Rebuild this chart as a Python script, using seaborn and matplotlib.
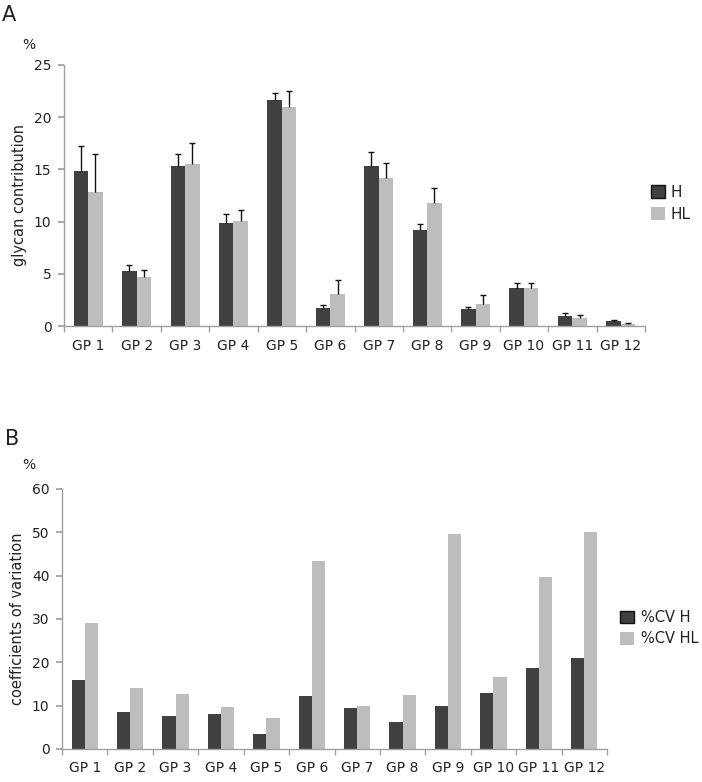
import numpy as np
import pandas as pd
import matplotlib
matplotlib.use("Agg")
import matplotlib.pyplot as plt
import seaborn as sns
from matplotlib.ticker import MultipleLocator, FixedLocator

groups = ["GP 1", "GP 2", "GP 3", "GP 4", "GP 5", "GP 6",
          "GP 7", "GP 8", "GP 9", "GP 10", "GP 11", "GP 12"]

# panel A: mean glycan contribution (%) and upper error
h_mean = [14.8, 5.3, 15.3, 9.9, 21.6, 1.7, 15.3, 9.2, 1.6, 3.6, 1.0, 0.5]
hl_mean = [12.8, 4.7, 15.5, 10.1, 21.0, 3.1, 14.2, 11.8, 2.1, 3.6, 0.8, 0.2]
h_err = [2.4, 0.5, 1.2, 0.8, 0.7, 0.3, 1.4, 0.6, 0.2, 0.5, 0.2, 0.06]
hl_err = [3.7, 0.7, 2.0, 1.0, 1.5, 1.3, 1.4, 1.4, 0.9, 0.55, 0.3, 0.1]

# panel B: coefficients of variation (%)
cv_h = [15.9, 8.5, 7.7, 8.0, 3.5, 12.3, 9.4, 6.3, 9.9, 13.0, 18.6, 21.1]
cv_hl = [29.1, 14.0, 12.8, 9.7, 7.1, 43.4, 9.9, 12.5, 49.6, 16.6, 39.8, 50.1]

dark = "#404040"
light = "#bdbdbd"
axis_col = "#a0a0a0"
txt_col = "#222222"

sns.set_theme(style="white")
plt.rcParams["font.family"] = ["DejaVu Sans"]

df_a = pd.DataFrame({
    "group": groups * 2,
    "value": h_mean + hl_mean,
    "err": h_err + hl_err,
    "series": ["H"] * 12 + ["HL"] * 12,
})
df_b = pd.DataFrame({
    "group": groups * 2,
    "value": cv_h + cv_hl,
    "series": ["%CV H"] * 12 + ["%CV HL"] * 12,
})

fig = plt.figure(figsize=(7.02, 7.82), dpi=100)
ax_a = fig.add_axes([0.0912, 0.5831, 0.8276, 0.3338])
ax_b = fig.add_axes([0.0883, 0.0422, 0.7764, 0.3325])


def style_axis(ax, ymax, step, ylabel):
    for s in ["top", "right"]:
        ax.spines[s].set_visible(False)
    for s in ["left", "bottom"]:
        ax.spines[s].set_color(axis_col)
        ax.spines[s].set_linewidth(1.0)
    ax.set_ylim(0, ymax)
    ax.set_xlim(-0.5, len(groups) - 0.5)
    ax.yaxis.set_major_locator(MultipleLocator(step))
    ax.xaxis.set_minor_locator(FixedLocator(np.arange(-0.5, len(groups), 1.0)))
    ax.tick_params(axis="x", which="major", length=0, pad=9, labelsize=10, labelcolor=txt_col)
    ax.tick_params(axis="x", which="minor", length=4, color=axis_col, bottom=True)
    ax.tick_params(axis="y", which="major", length=4, color=axis_col, left=True,
                   labelsize=10, labelcolor=txt_col, pad=5)
    ax.set_xlabel("")
    ax.set_ylabel(ylabel, fontsize=10.5, color=txt_col, labelpad=5)


def style_legend(ax, anchor, fs, pad):
    ax.legend(loc="center left", bbox_to_anchor=anchor, frameon=False,
              fontsize=fs, handlelength=0.95, handleheight=0.95, handletextpad=pad,
              labelspacing=0.45, borderaxespad=0, borderpad=0)
    leg = ax.get_legend()
    leg.legend_handles[0].set_edgecolor("#111111")
    leg.legend_handles[0].set_linewidth(1.0)
    for t in leg.get_texts():
        t.set_color(txt_col)


# panel A
sns.barplot(data=df_a, x="group", y="value", hue="series", palette=[dark, light],
            width=0.6, errorbar=None, ax=ax_a, saturation=1, linewidth=0)
for cont, col in zip(ax_a.containers, ["H", "HL"]):
    errs = df_a.loc[df_a["series"] == col, "err"].to_numpy()
    xs = np.array([b.get_x() + b.get_width() / 2 for b in cont])
    ys = np.array([b.get_height() for b in cont])
    ax_a.vlines(xs, ys, ys + errs, color="#111111", linewidth=1.0)
    ax_a.plot(xs, ys + errs, ls="none", marker="_", ms=5, mew=1.0, color="#111111")
style_axis(ax_a, 25, 5, "glycan contribution")
style_legend(ax_a, (1.01, 0.47), 11, 0.35)

# panel B
sns.barplot(data=df_b, x="group", y="value", hue="series", palette=[dark, light],
            width=0.58, errorbar=None, ax=ax_b, saturation=1, linewidth=0)
style_axis(ax_b, 60, 10, "coefficients of variation")
style_legend(ax_b, (1.024, 0.465), 10.5, 0.45)

# panel letters and units
fig.text(2 / 702, 1 - 15 / 782, "A", fontsize=15, va="center", ha="left", color=txt_col)
fig.text(22 / 702, 1 - 45 / 782, "%", fontsize=10, va="center", ha="left", color=txt_col)
fig.text(5 / 702, 1 - 439 / 782, "B", fontsize=15, va="center", ha="left", color=txt_col)
fig.text(22 / 702, 1 - 465 / 782, "%", fontsize=10, va="center", ha="left", color=txt_col)

fig.savefig("out.png", dpi=100, facecolor="white")
